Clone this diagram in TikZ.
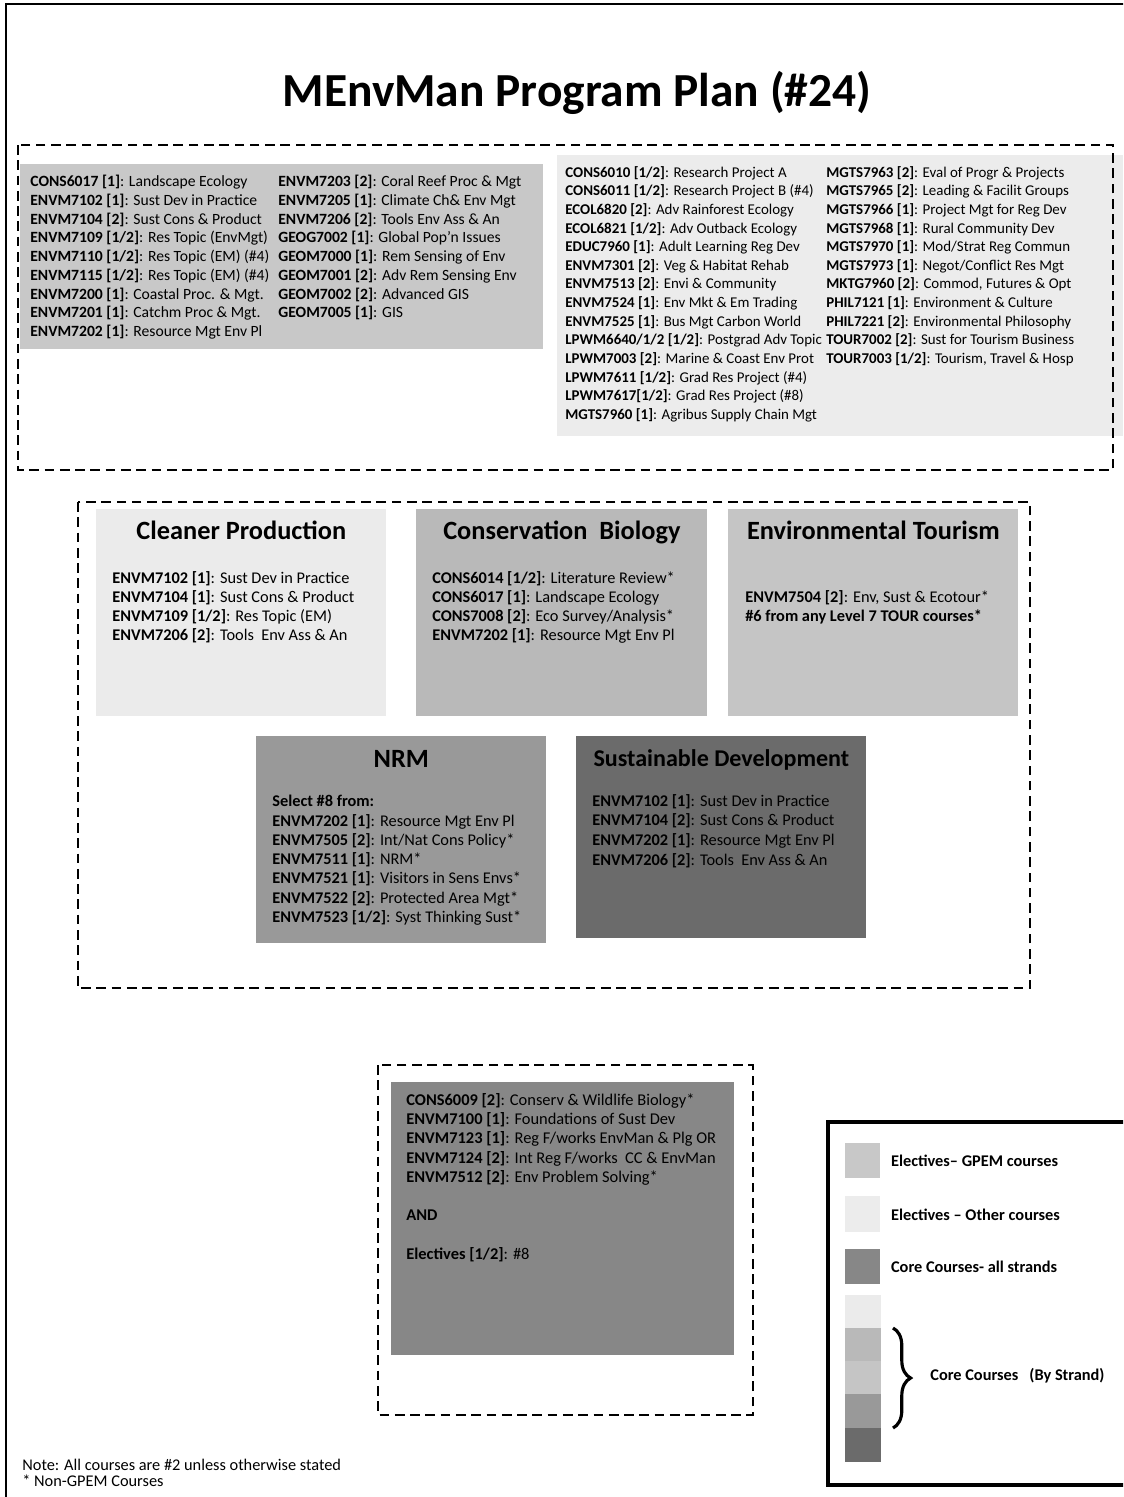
\documentclass[tikz,border=0pt]{standalone}
\usepackage{fontspec}
\setmainfont{Carlito}
\usetikzlibrary{positioning}
\usetikzlibrary{decorations.pathreplacing}
\definecolor{gpemgray}{HTML}{C8C8C8}
\definecolor{othergray}{HTML}{ECECEC}
\definecolor{coregray}{HTML}{878787}
\definecolor{cpgray}{HTML}{EBEBEB}
\definecolor{cbgray}{HTML}{B9B9B9}
\definecolor{etgray}{HTML}{C5C5C5}
\definecolor{nrmgray}{HTML}{999999}
\definecolor{sdgray}{HTML}{6B6B6B}
\tikzstyle{dashbox}=[draw,line width=1.3pt,dash pattern=on 5.5pt off 3.2pt]
\tikzstyle{courselist}=[anchor=north west,align=left,inner sep=0pt,font=\fontsize{8.9}{10.66}\selectfont]
\tikzstyle{strandlist}=[anchor=north west,align=left,inner sep=0pt,font=\fontsize{9.3}{10.85}\selectfont]
\tikzstyle{strandtitle}=[anchor=north,inner sep=0pt,font=\fontsize{15}{17}\selectfont\bfseries]
\tikzstyle{legendtext}=[anchor=west,inner sep=0pt,font=\fontsize{9.3}{11}\selectfont\bfseries]
\tikzstyle{strandbrace}=[decorate,decoration={brace,amplitude=10pt},line width=1.8pt]
\newcommand{\crs}[2]{\textbf{#1}: #2}
% Syntax: {name}{x}{y}{width}{height}{colour}, all in pixels of the plan
\newcommand{\shadebox}[6]{
  \node[fill=#6,inner sep=0pt,anchor=north west,minimum width=#4*0.02cm,minimum height=#5*0.02cm] (#1) at (#2,#3) {};
}

\begin{document}
\begin{tikzpicture}[x=0.02cm,y=-0.02cm]
\useasboundingbox (0,0) rectangle (1123,1497);
\clip (0,0) rectangle (1123,1497);
\draw[line width=1.3pt] (6,1500) -- (6,4) -- (1130,4);
\node[font=\fontsize{27}{31}\selectfont\bfseries] (title) at (577,93) {MEnvMan Program Plan (\#24)};

% electives
\shadebox{gpem}{20}{164}{523}{185}{gpemgray}
\shadebox{other}{557}{155}{566}{281}{othergray}
\node[courselist] (gpemA) at (30,175) {\crs{CONS6017 [1]}{Landscape Ecology}\\ \crs{ENVM7102 [1]}{Sust Dev in Practice}\\ \crs{ENVM7104 [2]}{Sust Cons \& Product}\\ \crs{ENVM7109 [1/2]}{Res Topic (EnvMgt)}\\ \crs{ENVM7110 [1/2]}{Res Topic (EM) (\#4)}\\ \crs{ENVM7115 [1/2]}{Res Topic (EM) (\#4)}\\ \crs{ENVM7200 [1]}{Coastal Proc. \& Mgt.}\\ \crs{ENVM7201 [1]}{Catchm Proc \& Mgt.}\\ \crs{ENVM7202 [1]}{Resource Mgt Env Pl}};
\node[courselist] (gpemB) at (278,175) {\crs{ENVM7203 [2]}{Coral Reef Proc \& Mgt}\\ \crs{ENVM7205 [1]}{Climate Ch\& Env Mgt}\\ \crs{ENVM7206 [2]}{Tools Env Ass \& An}\\ \crs{GEOG7002 [1]}{Global Pop’n Issues}\\ \crs{GEOM7000 [1]}{Rem Sensing of Env}\\ \crs{GEOM7001 [2]}{Adv Rem Sensing Env}\\ \crs{GEOM7002 [2]}{Advanced GIS}\\ \crs{GEOM7005 [1]}{GIS}};
\node[courselist,font=\fontsize{8.5}{10.6}\selectfont] (otherA) at (565,166) {\crs{CONS6010 [1/2]}{Research Project A}\\ \crs{CONS6011 [1/2]}{Research Project B (\#4)}\\ \crs{ECOL6820 [2]}{Adv Rainforest Ecology}\\ \crs{ECOL6821 [1/2]}{Adv Outback Ecology}\\ \crs{EDUC7960 [1]}{Adult Learning Reg Dev}\\ \crs{ENVM7301 [2]}{Veg \& Habitat Rehab}\\ \crs{ENVM7513 [2]}{Envi \& Community}\\ \crs{ENVM7524 [1]}{Env Mkt \& Em Trading}\\ \crs{ENVM7525 [1]}{Bus Mgt Carbon World}\\ \crs{LPWM6640/1/2 [1/2]}{Postgrad Adv Topic}\\ \crs{LPWM7003 [2]}{Marine \& Coast Env Prot}\\ \crs{LPWM7611 [1/2]}{Grad Res Project (\#4)}\\ \crs{LPWM7617[1/2]}{Grad Res Project (\#8)}\\ \crs{MGTS7960 [1]}{Agribus Supply Chain Mgt}};
\node[courselist,font=\fontsize{8.5}{10.6}\selectfont] (otherB) at (826,166) {\crs{MGTS7963 [2]}{Eval of Progr \& Projects}\\ \crs{MGTS7965 [2]}{Leading \& Facilit Groups}\\ \crs{MGTS7966 [1]}{Project Mgt for Reg Dev}\\ \crs{MGTS7968 [1]}{Rural Community Dev}\\ \crs{MGTS7970 [1]}{Mod/Strat Reg Commun}\\ \crs{MGTS7973 [1]}{Negot/Conflict Res Mgt}\\ \crs{MKTG7960 [2]}{Commod, Futures \& Opt}\\ \crs{PHIL7121 [1]}{Environment \& Culture}\\ \crs{PHIL7221 [2]}{Environmental Philosophy}\\ \crs{TOUR7002 [2]}{Sust for Tourism Business}\\ \crs{TOUR7003 [1/2]}{Tourism, Travel \& Hosp}};
\draw[dashbox] (18,145) rectangle (1113,470);

% strands
\shadebox{cp}{96}{509}{290}{207}{cpgray}
\shadebox{cb}{416}{509}{291}{207}{cbgray}
\shadebox{et}{728}{509}{290}{207}{etgray}
\shadebox{nrm}{256}{736}{290}{207}{nrmgray}
\shadebox{sd}{576}{736}{290}{202}{sdgray}
\node[strandtitle,below=12*0.02cm of cp.north] (cptitle) {Cleaner Production};
\node[strandtitle,below=12*0.02cm of cb.north] (cbtitle) {Conservation\ \ Biology};
\node[strandtitle,below=12*0.02cm of et.north] (ettitle) {Environmental Tourism};
\node[strandtitle,below=14*0.02cm of nrm.north] (nrmtitle) {NRM};
\node[strandtitle,font=\fontsize{13.7}{16}\selectfont\bfseries,below=13*0.02cm of sd.north] (sdtitle) {Sustainable Development};
\node[strandlist] (cplist) at (112,571) {\crs{ENVM7102 [1]}{Sust Dev in Practice}\\ \crs{ENVM7104 [1]}{Sust Cons \& Product}\\ \crs{ENVM7109 [1/2]}{Res Topic (EM)}\\ \crs{ENVM7206 [2]}{Tools\ \ Env Ass \& An}};
\node[strandlist] (cblist) at (432,571) {\crs{CONS6014 [1/2]}{Literature Review*}\\ \crs{CONS6017 [1]}{Landscape Ecology}\\ \crs{CONS7008 [2]}{Eco Survey/Analysis*}\\ \crs{ENVM7202 [1]}{Resource Mgt Env Pl}};
\node[strandlist] (etlist) at (745,590) {\crs{ENVM7504 [2]}{Env, Sust \& Ecotour*}\\ \textbf{\#6 from any Level 7 TOUR courses*}};
\node[strandlist,font=\fontsize{9.3}{10.95}\selectfont] (nrmlist) at (272,795) {\textbf{Select \#8 from:}\\ \crs{ENVM7202 [1]}{Resource Mgt Env Pl}\\ \crs{ENVM7505 [2]}{Int/Nat Cons Policy*}\\ \crs{ENVM7511 [1]}{NRM*}\\ \crs{ENVM7521 [1]}{Visitors in Sens Envs*}\\ \crs{ENVM7522 [2]}{Protected Area Mgt*}\\ \crs{ENVM7523 [1/2]}{Syst Thinking Sust*}};
\node[strandlist,font=\fontsize{9.3}{11.2}\selectfont] (sdlist) at (592,794) {\crs{ENVM7102 [1]}{Sust Dev in Practice}\\ \crs{ENVM7104 [2]}{Sust Cons \& Product}\\ \crs{ENVM7202 [1]}{Resource Mgt Env Pl}\\ \crs{ENVM7206 [2]}{Tools\ \ Env Ass \& An}};
\draw[dashbox] (78,502) rectangle (1030,988);

% core
\shadebox{core}{391}{1082}{343}{273}{coregray}
\node[strandlist,font=\fontsize{9.35}{10.95}\selectfont] (corelist) at (406,1093) {\crs{CONS6009 [2]}{Conserv \& Wildlife Biology*}\\ \crs{ENVM7100 [1]}{Foundations of Sust Dev}\\ \crs{ENVM7123 [1]}{Reg F/works EnvMan \& Plg OR}\\ \crs{ENVM7124 [2]}{Int Reg F/works\ \ CC \& EnvMan}\\ \crs{ENVM7512 [2]}{Env Problem Solving*}\\[11pt] \textbf{AND}\\[11pt] \crs{Electives [1/2]}{\#8}};
\draw[dashbox] (378,1065) rectangle (753,1415);

% legend
\draw[line width=2pt] (1130,1122) -- (828,1122) -- (828,1485) -- (1130,1485);
\shadebox{keygpem}{845}{1143}{35}{35}{gpemgray}
\shadebox{keyother}{845}{1196}{35}{36}{othergray}
\shadebox{keycore}{845}{1249}{35}{35}{coregray}
\shadebox{keycp}{845}{1295}{36}{34}{cpgray}
\shadebox{keycb}{845}{1328}{36}{34}{cbgray}
\shadebox{keyet}{845}{1361}{36}{34}{etgray}
\shadebox{keynrm}{845}{1394}{36}{34}{nrmgray}
\shadebox{keysd}{845}{1428}{36}{34}{sdgray}
\node[legendtext,right=10*0.02cm of keygpem] (lgpem) {Electives-- GPEM courses};
\node[legendtext,right=10*0.02cm of keyother] (lother) {Electives -- Other courses};
\node[legendtext,right=10*0.02cm of keycore] (lcore) {Core Courses- all strands};
\coordinate (bracetop) at (893,1328);
\coordinate (bracebot) at (893,1428);
\draw[strandbrace] (bracetop) -- (bracebot);
\node[legendtext] (lstrand) at (930,1376) {Core Courses\ \ \ (By Strand)};

% notes
\node[courselist,font=\fontsize{9.3}{9.2}\selectfont] (notes) at (22,1459) {Note: All courses are \#2 unless otherwise stated\\ * Non-GPEM Courses};
\end{tikzpicture}
\end{document}
